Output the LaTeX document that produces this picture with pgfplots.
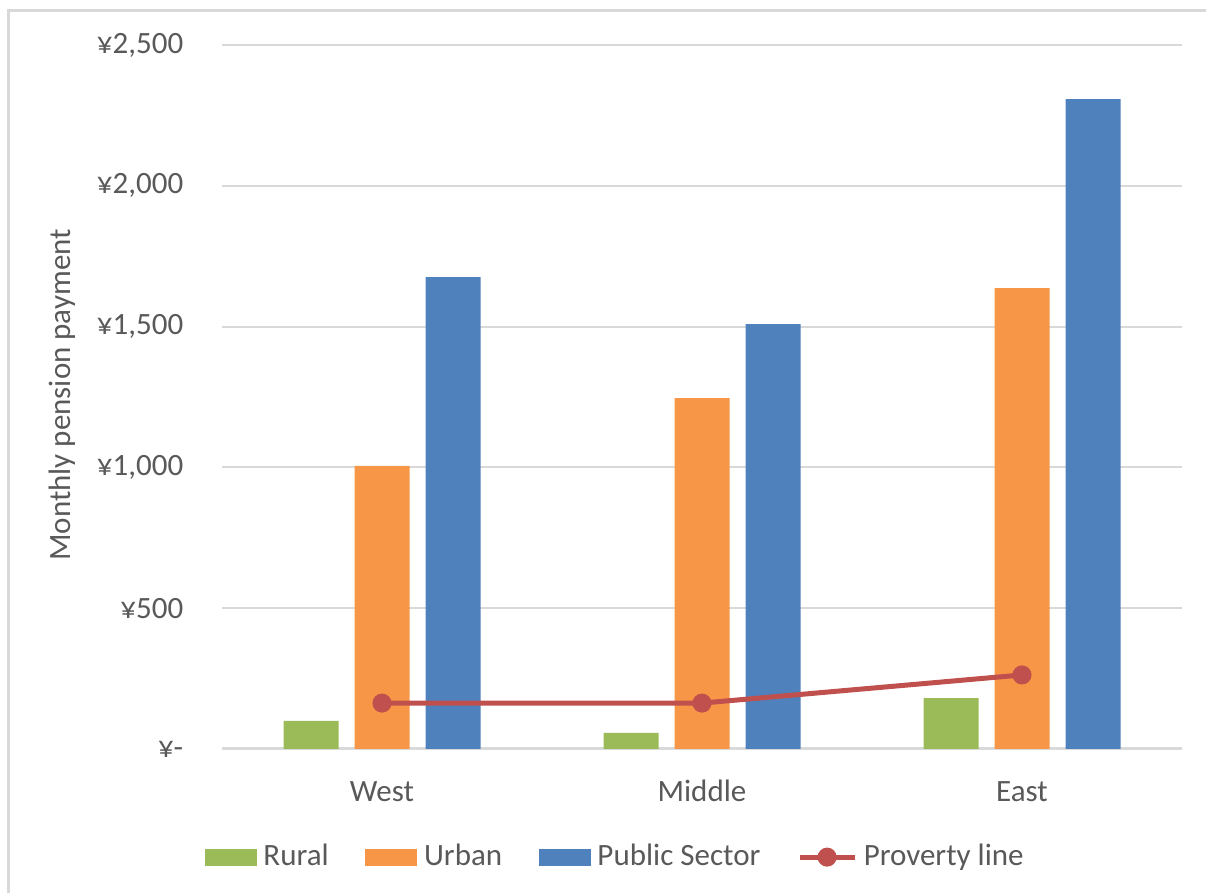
\documentclass[border=0pt]{standalone}
\usepackage{pgfplots}
\pgfplotsset{compat=1.18}
\usepackage{fontspec}
\setmainfont{Carlito}
\definecolor{cRural}{HTML}{9BBB59}
\definecolor{cUrban}{HTML}{F79646}
\definecolor{cPublic}{HTML}{4F81BD}
\definecolor{cLine}{HTML}{C0504D}
\definecolor{cGrid}{HTML}{D9D9D9}
\definecolor{cText}{HTML}{595959}
\begin{document}
\begin{tikzpicture}[x=0.3pt,y=0.3pt]
\path[use as bounding box] (0,0) rectangle (1206,893);
\draw[cGrid, line width=0.9pt] (8,0) -- (8,882) -- (1206,882);
\begin{axis}[
  at={(222*0.3pt,144*0.3pt)}, anchor=south west,
  scale only axis, width=288pt, height=211.2pt,
  xmin=-0.5, xmax=2.5, ymin=0, ymax=2500,
  xtick={0,1,2}, xticklabels={West,Middle,East},
  ytick={0,500,1000,1500,2000,2500},
  yticklabels={{¥-},{¥500},{¥1,000},{¥1,500},{¥2,000},{¥2,500}},
  axis line style={draw=none},
  axis x line*=bottom,
  major tick length=0pt,
  ymajorgrids, grid style={cGrid, line width=0.6pt},
  tick label style={font=\fontsize{9.3}{11}\selectfont, text=cText},
  yticklabel style={anchor=east, xshift=-8.1pt},
  xticklabel style={anchor=base, yshift=-15.9pt},
  ylabel={Monthly pension payment},
  ylabel style={font=\fontsize{9.3}{11}\selectfont, text=cText, at={(axis description cs:-0.1667,0.503)}, anchor=center},
  legend columns=4,
  legend style={at={(axis description cs:0.412,-0.1536)}, anchor=center, draw=none, fill=none,
    font=\fontsize{9.3}{11}\selectfont, text=cText,
    /tikz/every even column/.append style={column sep=9pt},
    /tikz/every odd column/.append style={column sep=0pt},
    cells={anchor=west}, inner sep=0pt},
  legend cell align=left,
  clip=false,
]
\draw[cGrid, line width=0.9pt] (axis cs:-0.5,0) -- (axis cs:2.5,0);
\addplot[ybar, bar width=16.5pt, bar shift=-21.3pt, fill=cRural, draw=none,
  area legend, legend image code/.code={\fill[cRural] (0pt,-2.55pt) rectangle (15.6pt,2.55pt);}]
  coordinates {(0,100) (1,57) (2,181)};
\addlegendentry{Rural}
\addplot[ybar, bar width=16.5pt, bar shift=0pt, fill=cUrban, draw=none,
  area legend, legend image code/.code={\fill[cUrban] (0pt,-2.55pt) rectangle (15.6pt,2.55pt);}]
  coordinates {(0,1005) (1,1246) (2,1637)};
\addlegendentry{Urban}
\addplot[ybar, bar width=16.5pt, bar shift=21.3pt, fill=cPublic, draw=none,
  area legend, legend image code/.code={\fill[cPublic] (0pt,-2.55pt) rectangle (15.6pt,2.55pt);}]
  coordinates {(0,1676) (1,1509) (2,2308)};
\addlegendentry{Public Sector}
\addplot[cLine, line width=1.5pt, mark=*, mark size=2.1pt, mark options={fill=cLine, draw=cLine},
  legend image code/.code={\draw[cLine, line width=1.5pt] (0pt,0pt) -- (16.5pt,0pt); \fill[cLine] (8.25pt,0pt) circle (2.1pt);}]
  coordinates {(0,163) (1,163) (2,263)};
\addlegendentry{Proverty line}
\end{axis}
\end{tikzpicture}
\end{document}
